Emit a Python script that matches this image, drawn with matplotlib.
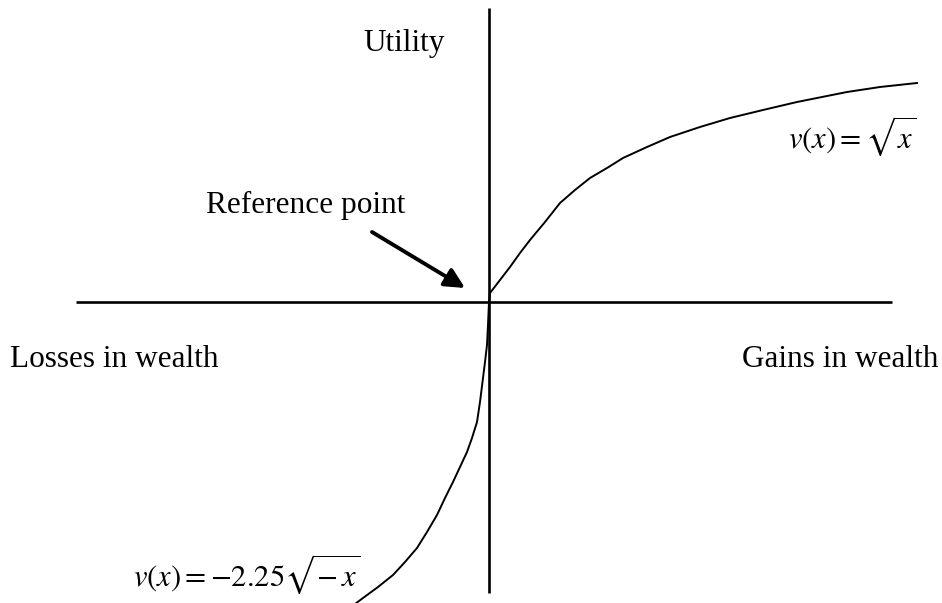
import matplotlib
matplotlib.use('Agg')
import matplotlib.pyplot as plt

# curve points (origin = reference point, pixel-ish units)
gain_x = [0, 1, 11, 21, 31, 41, 56, 71, 86, 101, 118, 134, 158, 181, 211,
          241, 274, 308, 358, 391, 428]
gain_v = [0, 9, 22, 35, 49, 62, 80, 99, 112, 124, 134, 144, 155, 165, 175,
          184, 192, 200, 210, 215, 219]

loss_x = [0, -1, -2, -4, -6, -9, -12, -17, -22, -29, -36, -44, -52, -62,
          -72, -84, -96, -111, -126, -134]
loss_v = [0, -23, -43, -60, -76, -100, -120, -136, -150, -165, -180, -196,
          -213, -230, -246, -260, -273, -285, -296, -302]

axis_x = [-413, 403]
axis_y = [-291, 294]

labels = {
    'utility': 'Utility',
    'ref': 'Reference point',
    'loss': 'Losses in wealth',
    'gain': 'Gains in wealth',
    'f_gain': r'$v(x) = \sqrt{x}$',
    'f_loss': r'$v(x) = -2.25\sqrt{-\,x}$',
}


def main():
    plt.rcParams['font.family'] = ['Liberation Serif', 'DejaVu Serif']
    plt.rcParams['mathtext.fontset'] = 'stix'

    fig = plt.figure(figsize=(9.42, 6.03), dpi=100)
    ax = fig.add_axes([0, 0, 1, 1])
    ax.set_xlim(-489, 942 - 489)
    ax.set_ylim(-(603 - 302), 302)
    ax.axis('off')

    # axes
    ax.plot(axis_x, [0, 0], color='black', lw=1.9, solid_capstyle='butt')
    ax.plot([0, 0], axis_y, color='black', lw=1.9, solid_capstyle='butt')

    # value function
    ax.plot(gain_x, gain_v, color='black', lw=1.4)
    ax.plot(loss_x, loss_v, color='black', lw=1.4)

    # arrow to the reference point
    ax.annotate('', xy=(-24, 14), xytext=(-117, 70),
                arrowprops=dict(arrowstyle='-|>', color='black', lw=2.8,
                                mutation_scale=30, shrinkA=0, shrinkB=0))

    fs = 22.5
    ax.text(-126, 251, labels['utility'], fontsize=fs, ha='left', va='baseline')
    ax.text(-283, 89, labels['ref'], fontsize=fs, ha='left', va='baseline')
    ax.text(-479, -65, labels['loss'], fontsize=fs, ha='left', va='baseline')
    ax.text(449, -65, labels['gain'], fontsize=fs, ha='right', va='baseline')
    ax.text(428, 154, labels['f_gain'], fontsize=22, ha='right', va='baseline')
    ax.text(-356, -284, labels['f_loss'], fontsize=22, ha='left', va='baseline')

    plt.savefig('out.png', dpi=100)


if __name__ == "__main__":
    main()
